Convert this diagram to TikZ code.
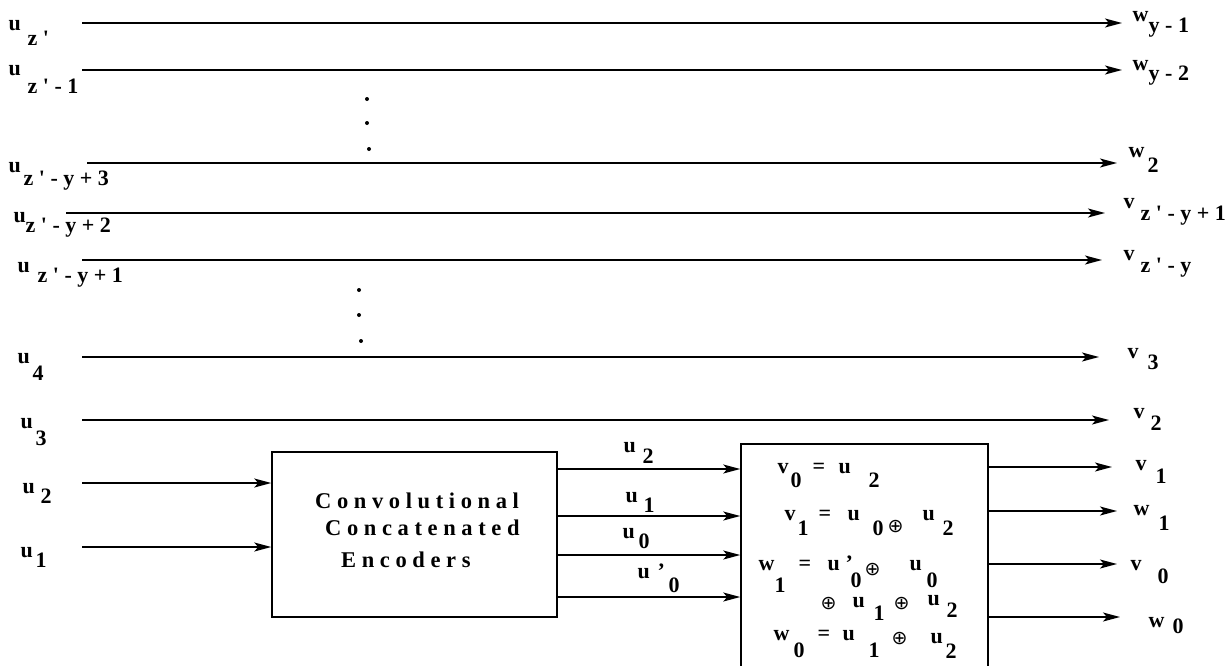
\documentclass[tikz,border=0pt]{standalone}
\usepackage{fontspec}
\setmainfont{Liberation Serif}
\newfontfamily\djv{DejaVu Sans}
\usetikzlibrary{arrows.meta}
\newcommand\at[3]{\rlap{\hspace{#1pt}\raisebox{-#2pt}{#3}}}
\newcommand\lab[4]{\at{0}{0}{#1}\at{#2}{#3}{#4}}
\newcommand\xo{{\djv\mdseries\fontsize{19}{19}\selectfont ⊕}}
\newcommand\pr{\textquotesingle}
\tikzset{
  wire/.style={line width=1.5pt},
  arr/.style={wire,-{Stealth[length=17pt,width=9pt,inset=4pt]}},
  lbl/.style={anchor=base west,inner sep=0pt,font=\fontsize{22}{26}\selectfont\bfseries},
  blk/.style={draw,line width=1.5pt,inner sep=0pt},
  btxt/.style={anchor=base west,inner sep=0pt,font=\fontsize{22.5}{26}\selectfont\bfseries},
  dotm/.style={fill,circle,inner sep=0pt,minimum size=4pt}
}
\begin{document}
\begin{tikzpicture}[x=1pt,y=-1pt]
\useasboundingbox (0,0) rectangle (1230,665);
% boxes
\node[blk,minimum width=285pt,minimum height=165pt] (enc) at (414.5,534.5) {};
\begin{scope}
\clip (0,0) rectangle (1230,665);
\node[blk,minimum width=247pt,minimum height=256pt] (xor) at (864.5,572) {};
\end{scope}
\node[btxt] (t1) at (315,508) {C o n v o l u t i o n a l};
\node[btxt] (t2) at (325,535) {C o n c a t e n a t e d};
\node[btxt] (t3) at (341,567) {E n c o d e r s};
% straight-through wires
\coordinate (s1) at (82,23);   \coordinate (e1) at (1122,23);
\coordinate (s2) at (82,70);   \coordinate (e2) at (1122,70);
\coordinate (s3) at (87,163);  \coordinate (e3) at (1117,163);
\coordinate (s4) at (66,213);  \coordinate (e4) at (1105,213);
\coordinate (s5) at (82,260);  \coordinate (e5) at (1102,260);
\coordinate (s6) at (82,357);  \coordinate (e6) at (1099,357);
\coordinate (s7) at (82,420);  \coordinate (e7) at (1109,420);
\foreach \i in {1,...,7} {\draw[arr] (s\i) -- (e\i);}
% inputs to encoder
\coordinate (i2) at (82,483);
\coordinate (i1) at (82,547);
\draw[arr] (i2) -- (i2 -| enc.west);
\draw[arr] (i1) -- (i1 -| enc.west);
% encoder outputs
\coordinate (o1) at (600,469);
\coordinate (o2) at (600,516);
\coordinate (o3) at (600,555);
\coordinate (o4) at (600,597);
\foreach \i in {1,...,4} {\draw[arr] (enc.east |- o\i) -- (o\i -| xor.west);}
% xor outputs
\coordinate (p1) at (1112,467);
\coordinate (p2) at (1117,511);
\coordinate (p3) at (1117,564);
\coordinate (p4) at (1120,617);
\foreach \i in {1,...,4} {\draw[arr] (xor.east |- p\i) -- (p\i);}
% dots
\node[dotm] (d1) at (367,99) {};
\node[dotm] (d2) at (367,123) {};
\node[dotm] (d3) at (369,149) {};
\node[dotm] (d4) at (359,290) {};
\node[dotm] (d5) at (359,315) {};
\node[dotm] (d6) at (361,341) {};
% left labels
\node[lbl] (l1) at (8,30)   {\lab{u}{19}{15}{z \pr}};
\node[lbl] (l2) at (8,75)   {\lab{u}{19}{18}{z \pr\ - 1}};
\node[lbl] (l3) at (8,172)  {\lab{u}{15}{13}{z \pr\ - y + 3}};
\node[lbl] (l4) at (13,222) {\lab{u}{12}{10}{z \pr\ - y + 2}};
\node[lbl] (l5) at (17,272) {\lab{u}{20}{10}{z \pr\ - y + 1}};
\node[lbl] (l6) at (17,363) {\lab{u}{15}{17}{4}};
\node[lbl] (l7) at (20,428) {\lab{u}{15}{17}{3}};
\node[lbl] (l8) at (22,493) {\lab{u}{18}{10}{2}};
\node[lbl] (l9) at (20,557) {\lab{u}{15}{10}{1}};
% right labels
\node[lbl] (r1) at (1132,21)  {\lab{w}{16}{11}{y - 1}};
\node[lbl] (r2) at (1132,70)  {\lab{w}{16}{10}{y - 2}};
\node[lbl] (r3) at (1128,157) {\lab{w}{19}{15}{2}};
\node[lbl] (r4) at (1123,208) {\lab{v}{17}{12}{z \pr\ - y + 1}};
\node[lbl] (r5) at (1123,260) {\lab{v}{17}{12}{z \pr\ - y}};
\node[lbl] (r6) at (1127,358) {\lab{v}{20}{11}{3}};
\node[lbl] (r7) at (1133,418) {\lab{v}{17}{12}{2}};
\node[lbl] (r8) at (1135,470) {\lab{v}{20}{13}{1}};
\node[lbl] (r9) at (1133,515) {\lab{w}{25}{15}{1}};
\node[lbl] (r10) at (1130,570) {\lab{v}{27}{13}{0}};
\node[lbl] (r11) at (1148,627) {\lab{w}{24}{6}{0}};
% encoder output labels
\node[lbl] (m1) at (623,452) {\lab{u}{19}{11}{2}};
\node[lbl] (m2) at (625,502) {\lab{u}{18}{10}{1}};
\node[lbl] (m3) at (622,538) {\lab{u}{16}{10}{0}};
\node[lbl] (m4) at (637,578) {\at{0}{0}{u}\at{20}{0}{'}\at{31}{14}{0}};
% equations
\node[lbl] (q1) at (777,473) {\at{0}{0}{v}\at{13}{14}{0}\at{35}{0}{=}\at{61}{0}{u}\at{91}{14}{2}};
\node[lbl] (q2) at (784,520) {\at{0}{0}{v}\at{13}{15}{1}\at{34}{0}{=}\at{63}{0}{u}\at{88}{15}{0}\at{103}{12}{\xo}\at{138}{0}{u}\at{158}{15}{2}};
\node[lbl] (q3) at (758,570) {\at{0}{0}{w}\at{16}{22}{1}\at{40}{0}{=}\at{69}{0}{u}\at{87}{0}{'}\at{92}{17}{0}\at{106}{5}{\xo}\at{151}{0}{u}\at{168}{17}{0}};
\node[lbl] (q4) at (822,607) {\at{-2}{2}{\xo}\at{30}{0}{u}\at{51}{13}{1}\at{71}{2}{\xo}\at{105}{-2}{u}\at{124}{10}{2}};
\node[lbl] (q5) at (773,640) {\at{0}{0}{w}\at{20}{17}{0}\at{44}{0}{=}\at{69}{0}{u}\at{95}{17}{1}\at{118}{4}{\xo}\at{157}{3}{u}\at{172}{18}{2}};
\end{tikzpicture}
\end{document}
